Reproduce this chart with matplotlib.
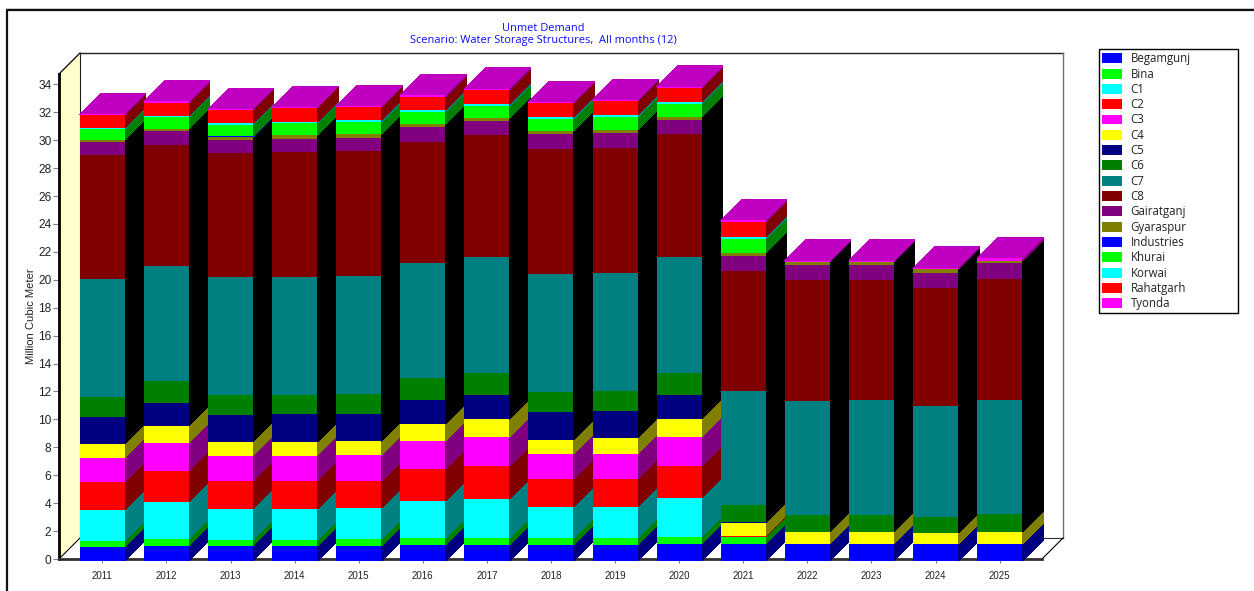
import numpy as np
import matplotlib
matplotlib.use("Agg")
import matplotlib.pyplot as plt
from matplotlib.lines import Line2D
from matplotlib.patches import Patch, Rectangle

years = [2011,2012,2013,2014,2015,2016,2017,2018,2019,2020,2021,2022,2023,2024,2025]
yticks = list(range(0, 35, 2))

Begamgunj  = [.86,.93,.93,.93,.93,1.00,1.00,1.00,1.00,1.07,1.10,1.07,1.07,1.07,1.07]
Bina       = [.43,.50,.43,.43,.50,.50,.50,.50,.50,.50,.50,0,0,0,0]
C1         = [2.22,2.65,2.22,2.22,2.22,2.65,2.79,2.22,2.22,2.79,0,0,0,0,0]
C2         = [2.01,2.22,2.01,2.01,1.93,2.29,2.36,2.01,2.01,2.29,.05,0,0,0,0]
C3         = [1.72,2.01,1.79,1.79,1.86,2.01,2.08,1.79,1.79,2.08,0,0,0,0,0]
C4         = [1.00,1.22,1.00,1.00,1.00,1.22,1.29,1.00,1.15,1.29,.93,.86,.86,.79,.86]
C5         = [1.93,1.65,1.93,2.00,1.93,1.72,1.72,2.00,1.93,1.72,.07,0,0,0,0]
C6         = [1.43,1.58,1.43,1.36,1.43,1.58,1.58,1.43,1.43,1.58,1.22,1.22,1.22,1.15,1.29]
C7         = [8.45,8.26,8.45,8.45,8.45,8.23,8.31,8.45,8.45,8.31,8.16,8.16,8.23,7.95,8.16]
C8         = [8.88,8.64,8.88,8.95,8.95,8.66,8.74,8.95,8.95,8.81,8.59,8.68,8.61,8.47,8.68]
Gairatganj = [.93,1.00,.93,.93,.93,1.07,1.00,1.07,1.07,1.00,1.10,1.07,1.07,1.07,1.15]
Gyaraspur  = [.14,.14,.21,.29,.29,.21,.21,.21,.21,.21,.19,.21,.21,.24,.14]
Industries = [0,0,.07,0,0,0,0,0,0,0,0,0,0,0,0]
Khurai     = [.81,.86,.81,.86,.86,.86,.86,.86,.93,.93,1.00,0,0,0,0]
Korwai     = [.05,.07,.12,.07,.14,.14,.14,.14,.14,.14,.14,0,0,0,0]
Rahatgarh  = [.93,.95,.95,1.02,.95,.95,1.00,1.00,1.00,1.00,1.10,0,0,0,0]
Tyonda     = [.07,.10,.07,.05,.07,.12,.12,.09,.09,.12,.10,.10,.10,.11,.19]

names = ["Begamgunj","Bina","C1","C2","C3","C4","C5","C6","C7","C8","Gairatganj",
         "Gyaraspur","Industries","Khurai","Korwai","Rahatgarh","Tyonda"]
series = [Begamgunj,Bina,C1,C2,C3,C4,C5,C6,C7,C8,Gairatganj,Gyaraspur,Industries,Khurai,Korwai,Rahatgarh,Tyonda]
colors = ["#0000ff","#00ff00","#00ffff","#ff0000","#ff00ff","#ffff00","#000080","#008000",
          "#008080","#800000","#800080","#808000","#0000ff","#00ff00","#00ffff","#ff0000","#ff00ff"]
side = {"#0000ff":"#000080","#00ff00":"#008000","#00ffff":"#008080","#ff0000":"#800000",
        "#ff00ff":"#800080","#ffff00":"#808000","#000080":"#000000","#008000":"#000000",
        "#008080":"#000000","#800000":"#000000","#800080":"#000000","#808000":"#000000"}
top_col = {"#ff00ff":"#c000c0"}

W, H = 1254, 591
fig = plt.figure(figsize=(W/100, H/100), dpi=100, facecolor="white")
L, R, B, T = 59, 1042, 559, 74
ax = fig.add_axes([L/W, (H-B)/H, (R-L)/W, (B-T)/H])
PX_Y = 13.96
PX_X = 64.1
ax.set_xlim(-(102.3-L)/PX_X, (R-102.3)/PX_X)
ax.set_ylim(0, (B-T)/PX_Y)
ax.patch.set_visible(False)
x0, x1 = ax.get_xlim()
y0, y1 = ax.get_ylim()
DX, DY = 21/PX_X, 21/PX_Y
BASE = -2/PX_Y
WIDTH = 45/PX_X

# walls and floor
ax.fill([x0, x0+DX, x0+DX, x0], [y0, y0+DY, y1+DY, y1], color="#ffffcc", lw=0, clip_on=False, zorder=1)
ln = dict(clip_on=False, zorder=1.5, solid_capstyle="projecting")
ax.plot([x0+DX, x1+DX], [y1+DY]*2, color="#202020", lw=1.0, **ln)
ax.plot([x1+DX, x1+DX], [y1+DY, y0+DY], color="#707070", lw=1.0, **ln)
ax.plot([x0+DX, x0+DX], [y1+DY, y0+DY], color="#202020", lw=0.8, **ln)
ax.plot([x0+DX, x1+DX], [y0+DY]*2, color="#303030", lw=0.8, **ln)
ax.plot([x0, x0+DX], [y0, y0+DY], color="black", lw=0.8, **ln)
ax.plot([x1, x1+DX], [y0, y0+DY], color="black", lw=0.8, **ln)
ax.plot([x0, x0+DX], [y1, y1+DY], color="black", lw=0.9, **ln)

# bars, left to right, each covering the side of the one before it
z = 2.0
for i in range(len(years)):
    xl, xr = i-WIDTH/2, i+WIDTH/2
    cum = 0.0
    last = None
    for k, vals in enumerate(series):
        v = vals[i]
        if v <= 0:
            continue
        lo = BASE if cum == 0 else cum
        hi = cum+v
        ax.fill([xr, xr+DX, xr+DX, xr], [lo, lo+DY, hi+DY, hi], color=side[colors[k]],
                lw=0, antialiased=False, clip_on=False, zorder=z)
        ax.bar(i, hi-lo, width=WIDTH, bottom=lo, color=colors[k], lw=0, clip_on=False, zorder=z+0.1)
        cum = hi
        last = k
    ax.fill([xl, xr, xr+DX, xl+DX], [cum, cum, cum+DY, cum+DY], color=top_col[colors[last]],
            lw=0, antialiased=False, clip_on=False, zorder=z+0.05)
    z += 0.2

for s in ("top", "right"):
    ax.spines[s].set_visible(False)
ax.spines["left"].set_linewidth(2.0)
ax.spines["left"].set_color("black")
ax.spines["bottom"].set_linewidth(2.0)
ax.spines["bottom"].set_color("#303030")
ax.spines["left"].set_zorder(1.8)
ax.spines["bottom"].set_zorder(1.8)

ax.set_yticks(yticks)
ax.set_yticklabels([str(t) for t in yticks], family="Liberation Sans", fontsize=8.6, color="#222222")
ax.set_xticks(range(len(years)))
ax.set_xticklabels([str(y) for y in years], family="Liberation Sans", fontsize=7.0, color="#222222")
ax.tick_params(axis="y", length=4, width=0.8, color="#808080", pad=1.5)
ax.tick_params(axis="x", length=3, width=0.8, color="#808080", pad=5.5)
fig.text(30.5/W, 1-316/H, "Million Cubic Meter", rotation=90, ha="center", va="center",
         family="Liberation Sans", fontsize=8.1, color="#222222")

# titles
title_col = "#0a0aff"
fig.text(543.5/W, 1-28.5/H, "Unmet Demand", ha="center", va="center", family="Open Sans", fontsize=7.9, color=title_col)
fig.text(543.5/W, 1-41/H, "Scenario: Water Storage Structures,  All months (12)", ha="center", va="center",
         family="Open Sans", fontsize=7.9, color=title_col)

# outer frame
fig.add_artist(Line2D([7/W, 7/W, 1], [0, 1-10/H, 1-10/H], transform=fig.transFigure, color="#111111", lw=1.6))
fig.add_artist(Line2D([6/W, 1], [1-8.3/H, 1-8.3/H], transform=fig.transFigure, color="#c8c8c8", lw=0.7))

# legend
handles = [Patch(facecolor=c, edgecolor="none", label=n) for c, n in zip(colors, names)]
leg = fig.legend(handles=handles, loc="upper left", bbox_to_anchor=(1099/W, 1-312/H, 139/W, 263/H), borderaxespad=0,
                 mode="expand", prop={"family": "Open Sans", "size": 8.3}, frameon=True, fancybox=False,
                 edgecolor="black", framealpha=1, ncol=1, handlelength=1.75, handleheight=0.95,
                 handletextpad=0.72, labelspacing=0.2, borderpad=0.28, labelcolor="#222222")
leg.get_frame().set_linewidth(1.0)

fig.savefig("out.png", dpi=100, facecolor="white")
